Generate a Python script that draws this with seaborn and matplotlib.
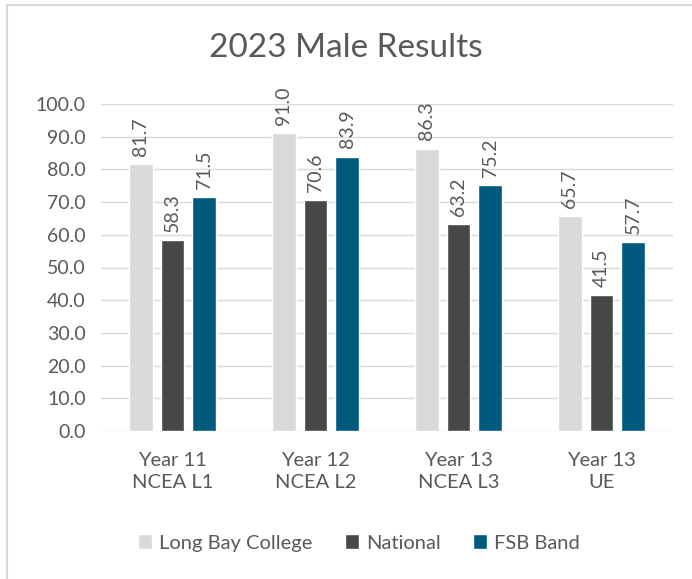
import pandas as pd
import numpy as np
import matplotlib.pyplot as plt
import seaborn as sns

categories = ['Year 11\nNCEA L1', 'Year 12\nNCEA L2', 'Year 13\nNCEA L3', 'Year 13\nUE']
series = ['Long Bay College', 'National', 'FSB Band']
long_bay = [81.7, 91.0, 86.3, 65.7]
national = [58.3, 70.6, 63.2, 41.5]
fsb_band = [71.5, 83.9, 75.2, 57.7]
y_ticks = np.arange(0, 101, 10)

colors = ['#D9D9D9', '#474747', '#005A7E']
txt = '#595959'

df = pd.DataFrame({
    'group': categories * 3,
    'series': [s for s in series for _ in categories],
    'value': long_bay + national + fsb_band,
})

sns.set_theme(style='white')
plt.rcParams['font.family'] = ['Lato', 'DejaVu Sans']

fig = plt.figure(figsize=(6.92, 5.79), dpi=100)
ax = fig.add_axes([101/692, 1 - 431/579, 572/692, 327/579])

sns.barplot(data=df, x='group', y='value', hue='series', palette=colors,
            width=0.67, gap=0.25, saturation=1, ax=ax, legend=True)

for cont in ax.containers:
    ax.bar_label(cont, fmt='%.1f', rotation=90, padding=6, color=txt, fontsize=14)

ax.set_ylim(0, 100)
ax.set_yticks(y_ticks)
ax.set_yticklabels(['%.1f' % v for v in y_ticks], color=txt, fontsize=14)
ax.set_xticks(range(len(categories)))
ax.set_xticklabels(categories, color=txt, fontsize=14.5, linespacing=1.4)
ax.tick_params(axis='y', length=0, pad=11)
ax.tick_params(axis='x', length=0, pad=15)
ax.set_xlabel('')
ax.set_ylabel('')
ax.yaxis.grid(True, color='#D9D9D9', lw=1)
ax.set_axisbelow(True)
sns.despine(ax=ax, left=True, top=True, right=True, bottom=True)

fig.text(0.5, 1 - 48/579, '2023 Male Results', ha='center', va='center',
         fontsize=24, color=txt)

leg = ax.legend(loc='center', bbox_to_anchor=(359/692, 1 - 543/579),
                bbox_transform=fig.transFigure, ncol=3, frameon=False,
                handlelength=0.7, handleheight=0.7, handletextpad=0.35,
                columnspacing=1.6, fontsize=14.5)
for t in leg.get_texts():
    t.set_color(txt)

border = plt.Rectangle((7/692, -0.1), 1.2, 1 - 5/579 + 0.1, transform=fig.transFigure,
                       fill=False, edgecolor='#D9D9D9', lw=1.5, clip_on=False)
fig.patches.append(border)

fig.savefig('out.png', dpi=100, facecolor='white')
